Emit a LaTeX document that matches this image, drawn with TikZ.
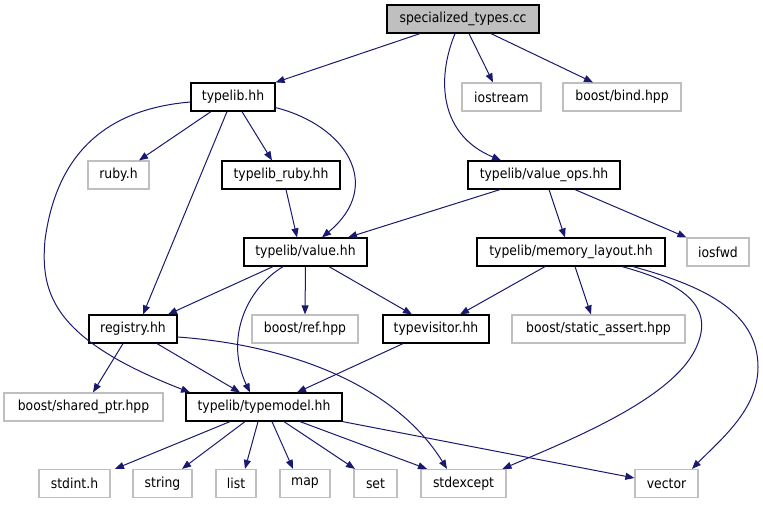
\documentclass[tikz,border=0pt]{standalone}
\usepackage{fontspec}
\setmainfont{DejaVu Sans}[FakeStretch=0.9]
\usetikzlibrary{arrows.meta}
\definecolor{edgeblue}{HTML}{191970}
\definecolor{extgray}{HTML}{BFBFBF}
\begin{document}
\begin{tikzpicture}[x=1pt,y=-1pt,
  box/.style={draw=black,line width=1.2pt,minimum height=28pt,inner sep=0pt,font=\fontsize{13.8}{15}\selectfont},
  extbox/.style={box,draw=extgray},
  rootbox/.style={box,fill=extgray},
  dep/.style={draw=edgeblue,line width=1pt,-{Triangle[length=9pt,width=7pt]},fill=none}]
\useasboundingbox (0,0) rectangle (763,504);
% nodes
\node[rootbox,minimum width=152pt] (spec) at (463,19) {specialized\_types.cc};
\node[extbox,minimum width=79pt] (iostream) at (501.5,97) {iostream};
\node[extbox,minimum width=118pt] (bind) at (622,97) {boost/bind.hpp};
\node[box,minimum width=84pt] (typelib) at (233,97) {typelib.hh};
\node[extbox,minimum width=61pt] (ruby) at (118.5,175) {ruby.h};
\node[box,minimum width=118pt] (truby) at (281,175) {typelib\_ruby.hh};
\node[box,minimum width=152pt] (vops) at (544,175) {typelib/value\_ops.hh};
\node[box,minimum width=123pt] (value) at (305.5,252) {typelib/value.hh};
\node[box,minimum width=188pt] (mlay) at (571,252) {typelib/memory\_layout.hh};
\node[extbox,minimum width=62pt] (iosfwd) at (718,252) {iosfwd};
\node[box,minimum width=88pt] (registry) at (133,329) {registry.hh};
\node[extbox,minimum width=106pt] (ref) at (305,329) {boost/ref.hpp};
\node[box,minimum width=106pt] (tvis) at (436,329) {typevisitor.hh};
\node[extbox,minimum width=173pt] (sassert) at (598.5,329) {boost/static\_assert.hpp};
\node[extbox,minimum width=159pt] (sptr) at (83.5,407) {boost/shared\_ptr.hpp};
\node[box,minimum width=156pt] (tmodel) at (264,407) {typelib/typemodel.hh};
\node[extbox,minimum width=71pt] (stdint) at (74.5,483.5) {stdint.h};
\node[extbox,minimum width=59pt] (string) at (162.5,483.5) {string};
\node[extbox,minimum width=40pt] (list) at (236,483.5) {list};
\node[extbox,minimum width=50pt] (map) at (305,483.5) {map};
\node[extbox,minimum width=43pt] (set) at (375.5,483.5) {set};
\node[extbox,minimum width=85pt] (stdexc) at (463.5,483.5) {stdexcept};
\node[extbox,minimum width=63pt] (vector) at (666.5,483.5) {vector};
% edges
\draw[dep] ([xshift=-43pt]spec.south) -- (typelib.north east);
\draw[dep] ([xshift=6pt]spec.south) -- ([xshift=-8.5pt]iostream.north);
\draw[dep] ([xshift=28pt]spec.south) -- ([xshift=-29pt]bind.north);
\draw[dep] ([xshift=-8pt]spec.south) .. controls (436,80) and (440,135) .. ([xshift=-43pt]vops.north);
\draw[dep] ([xshift=-22pt]typelib.south) -- ([xshift=20.5pt]ruby.north);
\draw[dep] ([xshift=9pt]typelib.south) -- ([xshift=-9pt]truby.north);
\draw[dep] ([xshift=-6pt]typelib.south) -- ([xshift=10pt]registry.north);
\draw[dep] ([yshift=4pt]typelib.south east) .. controls (345,125) and (385,185) .. ([xshift=16.5pt]value.north);
\draw[dep] ([yshift=-5pt]typelib.west) .. controls (95,110) and (55,165) .. (45,240) .. controls (40,295) and (55,340) .. ([xshift=-74pt]tmodel.north);
\draw[dep] ([xshift=5pt]truby.south) -- ([xshift=-8.5pt]value.north);
\draw[dep] ([xshift=-44pt]vops.south) -- ([xshift=42.5pt]value.north);
\draw[dep] ([xshift=5pt]vops.south) -- ([xshift=-6pt]mlay.north);
\draw[dep] ([xshift=31pt]vops.south) -- (iosfwd.north west);
\draw[dep] ([xshift=-32.5pt]value.south) -- ([xshift=35pt]registry.north);
\draw[dep] (value.south) -- (ref.north);
\draw[dep] ([xshift=23.5pt]value.south) -- ([xshift=-24pt]tvis.north);
\draw[dep] ([xshift=-22.5pt]value.south) .. controls (245,290) and (225,340) .. ([xshift=-14pt]tmodel.north);
\draw[dep] ([xshift=-26pt]mlay.south) -- ([xshift=24pt]tvis.north);
\draw[dep] ([xshift=4pt]mlay.south) -- ([xshift=-7.5pt]sassert.north);
\draw[dep] ([xshift=51pt]mlay.south) .. controls (690,285) and (715,310) .. (695,350) .. controls (670,400) and (570,440) .. ([xshift=39pt]stdexc.north);
\draw[dep] ([xshift=62pt]mlay.south) .. controls (700,285) and (758,310) .. (758,367) .. controls (758,410) and (720,440) .. ([xshift=25.5pt]vector.north);
\draw[dep] ([xshift=-10pt]registry.south) -- ([xshift=9.5pt]sptr.north);
\draw[dep] ([xshift=24pt]registry.south) -- ([xshift=-24pt]tmodel.north);
\draw[dep] ([yshift=-8pt]registry.east) .. controls (290,345) and (395,385) .. ([xshift=-16.5pt]stdexc.north);
\draw[dep] ([xshift=-33pt]tvis.south) -- ([xshift=33pt]tmodel.north);
\draw[dep] ([xshift=-34pt]tmodel.south) -- ([xshift=40.5pt]stdint.north);
\draw[dep] ([xshift=-19pt]tmodel.south) -- ([xshift=19.5pt]string.north);
\draw[dep] ([xshift=-6pt]tmodel.south) -- ([xshift=9pt]list.north);
\draw[dep] ([xshift=8pt]tmodel.south) -- ([xshift=-12pt]map.north);
\draw[dep] ([xshift=20pt]tmodel.south) -- ([xshift=-20.5pt]set.north);
\draw[dep] ([xshift=36pt]tmodel.south) -- ([xshift=-36.5pt]stdexc.north);
\draw[dep] (tmodel.south east) -- ([yshift=5.5pt]vector.west);
\end{tikzpicture}
\end{document}
